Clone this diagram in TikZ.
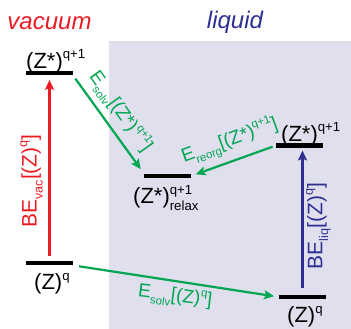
\documentclass[tikz,border=0pt]{standalone}
\usepackage{fontspec}
\setmainfont{Liberation Sans}
\usetikzlibrary{arrows.meta}
\definecolor{vacred}{HTML}{ED1C24}
\definecolor{liqblue}{HTML}{2E3192}
\definecolor{solvgreen}{HTML}{00A651}
\definecolor{liqbg}{HTML}{DFDFEE}
\newcommand\hsup[1]{\raisebox{0.45em}{\scalebox{0.6}{#1}}}
\newcommand\hsub[1]{\raisebox{-0.28em}{\scalebox{0.6}{#1}}}
\begin{document}
\begin{tikzpicture}[x=1pt,y=1pt,
  level/.style={fill=black, minimum width=47pt, minimum height=4.7pt, inner sep=0pt, outer sep=0pt},
  lvllabel/.style={inner sep=0pt, anchor=base west, font=\fontsize{22}{26}\selectfont},
  belabel/.style={inner sep=0pt, rotate=90, anchor=base, font=\fontsize{21}{25}\selectfont},
  elabel/.style={inner sep=0pt, anchor=base, text=solvgreen, font=\fontsize{19}{23}\selectfont},
  conn/.style={line width=2.2pt, -{Stealth[length=10pt,width=9pt,inset=2pt]}},
  phase/.style={font=\fontsize{24}{28}\selectfont\itshape, inner sep=0pt, anchor=base}]
\useasboundingbox (0,0) rectangle (351,329);
\fill[liqbg] (109,0) rectangle (351,288.3);
\node[phase, text=vacred] (tvac) at (49.5,299.5) {vacuum};
\node[phase, text=liqblue] (tliq) at (235,300.5) {liquid};
% levels
\node[level] (vt) at (49.5,256) {};
\node[level] (vb) at (49.5,66) {};
\node[level] (rx) at (167.5,153) {};
\node[level] (lt) at (299.5,183.5) {};
\node[level] (lb) at (302.5,32) {};
% level labels
\node[lvllabel] (vtl) at (26,260.7) {(Z*)\hsup{q+1}};
\node[lvllabel] (vbl) at (34,39) {(Z)\hsup{q}};
\node[lvllabel] (rxl) at (133,125) {(Z*)\rlap{\hsup{q+1}}\hsub{relax}};
\node[lvllabel] (ltl) at (281,187.3) {(Z*)\hsup{q+1}};
\node[lvllabel] (lbl) at (287,6) {(Z)\hsup{q}};
% connectors
\draw[conn, vacred, shorten <=5pt, shorten >=4.5pt] (vb.north) -- (vt.south);
\draw[conn, liqblue, shorten <=6.5pt, shorten >=2.6pt] (lb.north) -- (lb.north |- lt.south);
\draw[conn, solvgreen, shorten <=4pt, shorten >=5.5pt] (vt.south east) -- (rx.north west);
\draw[conn, solvgreen, shorten <=3.6pt, shorten >=5pt] (lt.west) -- (rx.east);
\draw[conn, solvgreen, shorten <=6pt, shorten >=5pt] (vb.south east) -- (lb.west);
% connector labels
\node[belabel, text=vacred] (bev) at (36.7,148) {BE\hsub{vac}[(Z)\hsup{q}]};
\node[belabel, text=liqblue] (bel) at (322.3,103) {BE\hsub{liq}[(Z)\hsup{q}]};
\node[elabel, rotate=-54.5] (esv) at (116.25,214.35) {E\hsub{solv}[(Z*)\hsup{q+1}]};
\node[elabel, rotate=20] (erg) at (231.5,183.5) {E\hsub{reorg}[(Z*)\hsup{q+1}]};
\node[elabel, rotate=-7] (esq) at (174.5,27.5) {E\hsub{solv}[(Z)\hsup{q}]};
\end{tikzpicture}
\end{document}
